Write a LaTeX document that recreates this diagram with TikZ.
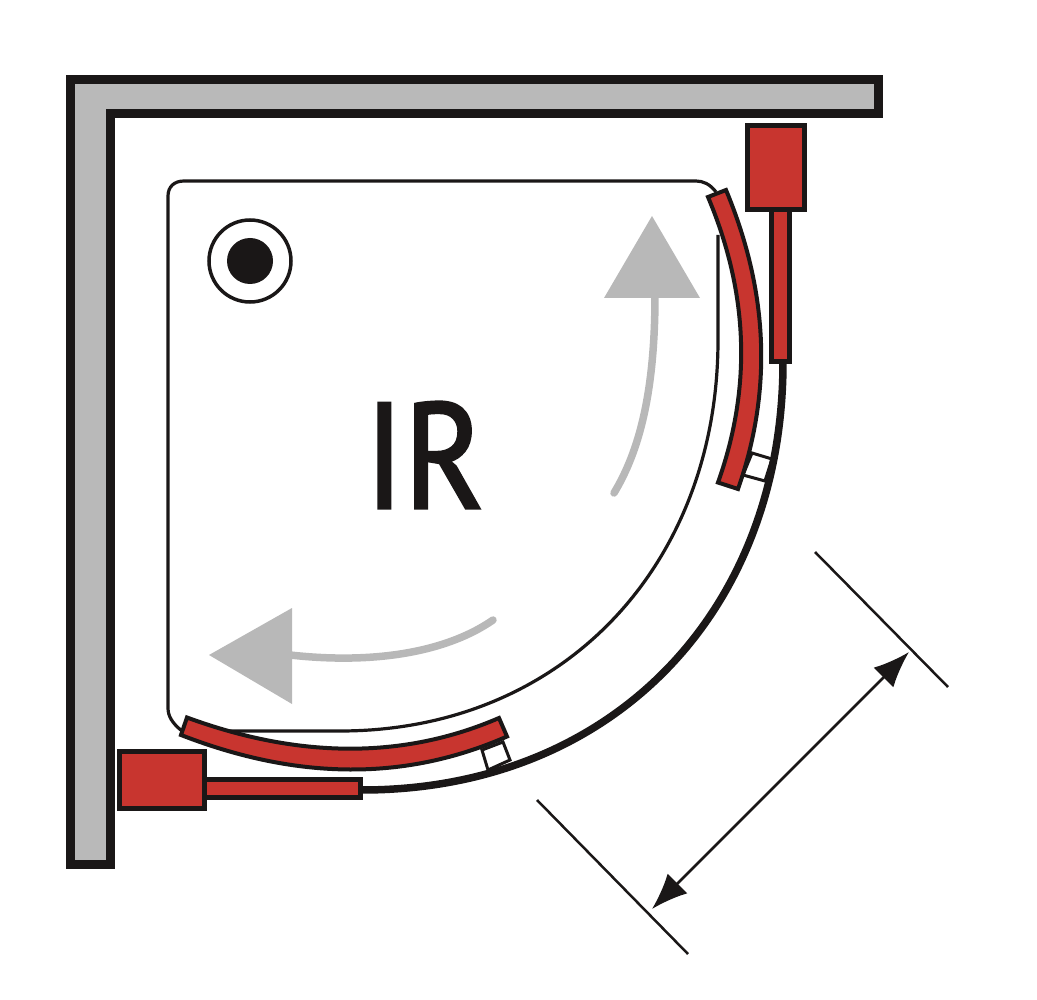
\documentclass[tikz,border=0pt]{standalone}
\usepackage{fontspec}
\setmainfont{PT Sans}[FakeBold=2]
\usetikzlibrary{arrows.meta}
\definecolor{wallgray}{HTML}{B9B9B9}
\definecolor{arrowgray}{HTML}{B8B8B8}
\definecolor{partred}{HTML}{C8352F}
\definecolor{ink}{HTML}{1A1717}
\tikzset{
  wall/.style={draw=ink,fill=wallgray,line width=9pt,line join=miter},
  tray/.style={draw=ink,line width=3.2pt},
  redpart/.style={draw=ink,fill=partred,line width=5pt,line join=miter},
  redpanel/.style={draw=ink,fill=partred,line width=4pt,line join=miter},
  rail/.style={draw=ink,line width=7.5pt},
  tab/.style={draw=ink,fill=white,line width=3pt},
  flow/.style={draw=arrowgray,line width=7.5pt,line cap=round},
  flowhead/.style={fill=arrowgray,draw=none},
  dimline/.style={draw=ink,line width=2.5pt},
  dimarrow/.style={draw=ink,line width=2.5pt,{Latex[length=36pt,width=28pt]}-{Latex[length=36pt,width=28pt]}}
}
\begin{document}
\begin{tikzpicture}[x=1pt,y=-1pt]
\useasboundingbox (0,0) rectangle (1037,1000);
% walls
\draw[wall] (70.5,79.5) -- (878,79.5) -- (878,113.5) -- (110.5,113.5) -- (110.5,864.5) -- (70.5,864.5) -- cycle;
% tray
\draw[tray] (716,192) .. controls (710,184) and (703,181) .. (696,181) -- (184,181)
  .. controls (174,181) and (168,187) .. (168,196) -- (168,708)
  .. controls (168,716) and (172,723) .. (182,731)
  -- (340,731)
  .. controls (564,731) and (718,564) .. (718,340) -- (718,235);
% drain
\node[circle,draw=ink,line width=3.5pt,minimum size=82pt,inner sep=0pt] (drainring) at (250,261) {};
\node[circle,fill=ink,minimum size=46pt,inner sep=0pt] (draincore) at (250,261) {};
% flow arrows
\draw[flow] (614,493) .. controls (640,450) and (655,390) .. (655,295);
\fill[flowhead] (652,216) -- (700,298) -- (604,298) -- cycle;
\draw[flow] (493,620) .. controls (450,650) and (380,665) .. (290,655);
\fill[flowhead] (209,655) -- (292,608) -- (292,704) -- cycle;
% label
\node[inner sep=0pt,font=\fontsize{150pt}{150pt}\selectfont,text=ink] (label) at (424.5,455) {\scalebox{.9}[1]{IR}};
% small tabs
\draw[tab] (752,453) -- (772,459) -- (765,481) -- (743,475) -- cycle;
\draw[tab] (482,750) -- (503,742) -- (510,760) -- (488,770) -- cycle;
% outer glass
\draw[rail] (783,362) .. controls (783,612) and (612,790) .. (362,790);
% curved red panels
\draw[redpanel] (726,190) .. controls (768,291) and (773,389) .. (738,489)
  -- (718,482.5) .. controls (752,387) and (748.5,293) .. (708,197) -- cycle;
\draw[redpanel] (187,717.5) .. controls (300,759) and (404,759) .. (499,718)
  -- (507,736.5) .. controls (406,781) and (298,780.5) .. (181,735) -- cycle;
% jambs
\draw[redpart] (771.5,209.5) rectangle (789.5,361.5);
\draw[redpart] (747.5,125.5) rectangle (804.5,209.5);
\draw[redpart] (204.5,779.5) rectangle (360.5,797.5);
\draw[redpart] (119.5,751.5) rectangle (204.5,808.5);
% dimension
\coordinate (a1) at (815,552);
\coordinate (a2) at (948,687);
\coordinate (b1) at (537,800);
\coordinate (b2) at (688,954);
\coordinate (p1) at (909,652);
\coordinate (p2) at (652,909);
\draw[dimline] (a1) -- (a2);
\draw[dimline] (b1) -- (b2);
\draw[dimarrow] (p1) -- (p2);
\end{tikzpicture}
\end{document}
